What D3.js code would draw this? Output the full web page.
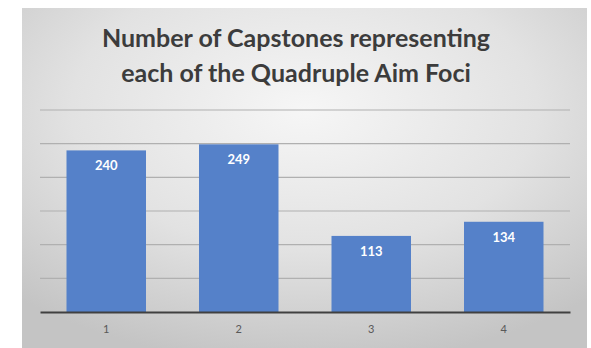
<!DOCTYPE html>
<html><head><meta charset="utf-8">
<script src="https://cdn.jsdelivr.net/npm/d3@7"></script>
<style>body{margin:0;background:#fff;}svg{display:block;}</style>
</head><body>
<svg id="c" width="591" height="348"></svg>
<script>
const categories = ["1","2","3","4"];
const values = [240, 249, 113, 134];
const yTicks = [0, 50, 100, 150, 200, 250, 300];
const titleLines = ["Number of Capstones representing", "each of the Quadruple Aim Foci"];

const svg = d3.select("#c");
const defs = svg.append("defs");
const g = defs.append("radialGradient").attr("id","bg")
  .attr("cx","50%").attr("cy","30%").attr("r","75%")
  .attr("gradientUnits","objectBoundingBox");
g.append("stop").attr("offset","0%").attr("stop-color","#f6f6f6");
g.append("stop").attr("offset","55%").attr("stop-color","#e2e2e2");
g.append("stop").attr("offset","100%").attr("stop-color","#c4c4c4");

svg.append("rect").attr("x",22).attr("y",8).attr("width",565).attr("height",340).attr("fill","url(#bg)");

const x = d3.scaleBand().domain(categories).range([40,570]).paddingInner(0.4).paddingOuter(0.2);
const y = d3.scaleLinear().domain([0,300]).range([312,110]);

// gridlines
svg.append("g").selectAll("line").data(yTicks.slice(1)).join("line")
  .attr("x1",40).attr("x2",570).attr("y1",d=>y(d)).attr("y2",d=>y(d))
  .attr("stroke","#b0b0b0").attr("stroke-width",1.2);

// bars
svg.append("g").selectAll("rect").data(values).join("rect")
  .attr("x",(d,i)=>x(categories[i])).attr("width",x.bandwidth())
  .attr("y",d=>y(d)).attr("height",d=>y(0)-y(d)).attr("fill","#5581c9");

// labels
svg.append("g").selectAll("text").data(values).join("text")
  .attr("x",(d,i)=>x(categories[i])+x.bandwidth()/2).attr("y",d=>y(d)+20)
  .attr("text-anchor","middle").attr("fill","#ffffff")
  .attr("font-family","Lato, 'Open Sans', sans-serif").attr("font-weight","bold").attr("font-size",13)
  .text(d=>d);

// axis
const xAxis = d3.axisBottom(x).tickSize(0).tickPadding(13);
const ax = svg.append("g").attr("transform",`translate(0,${y(0)})`).call(xAxis);
ax.select(".domain").attr("stroke","#404040").attr("stroke-width",2.2);
ax.selectAll("text").attr("fill","#595959").attr("font-size",11).attr("font-family","Lato, sans-serif");

// title
svg.append("g").selectAll("text").data(titleLines).join("text")
  .attr("x",296).attr("y",(d,i)=>47+i*35)
  .attr("text-anchor","middle").attr("fill","#3c3c3c")
  .attr("font-family","Lato, 'Open Sans', sans-serif").attr("font-weight","bold").attr("font-size",25)
  .text(d=>d);
</script>
</body></html>
